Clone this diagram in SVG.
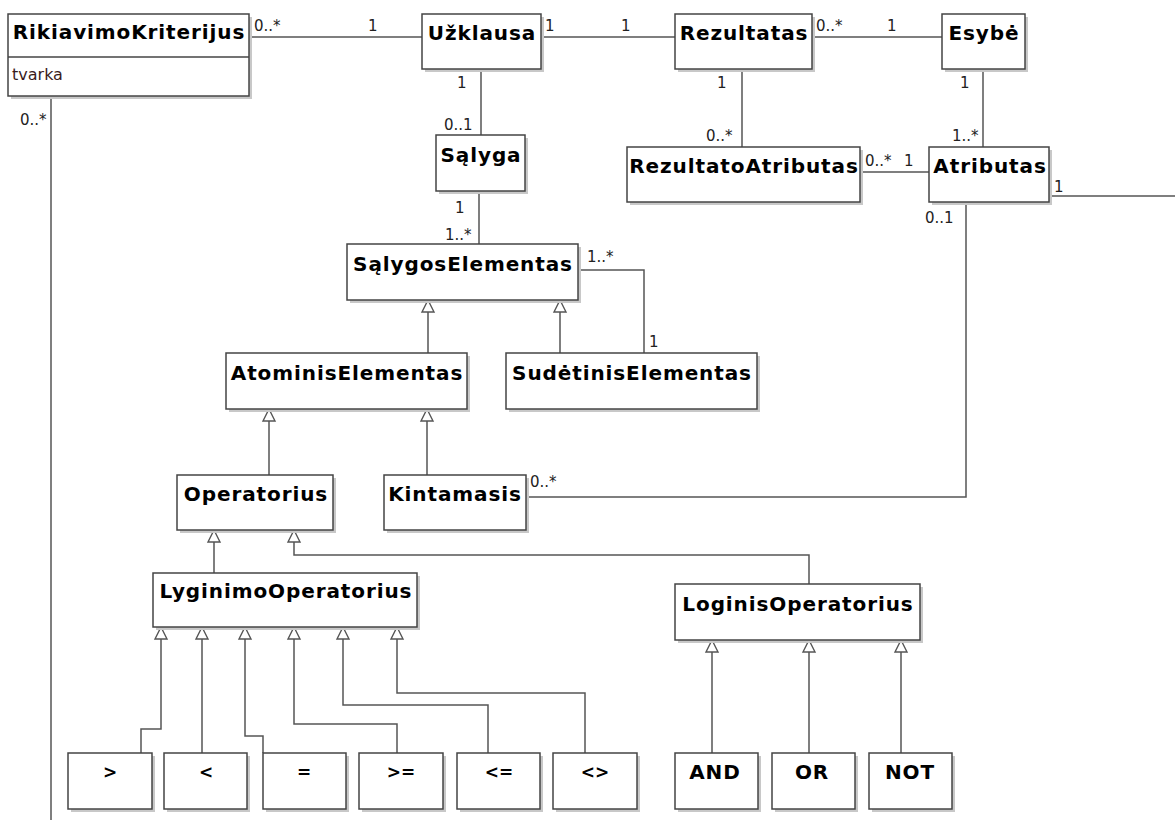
<svg xmlns="http://www.w3.org/2000/svg" width="1175" height="820" viewBox="0 0 1175 820">
  <style>
    .shadow { fill: #c8c8c8; }
    .box { fill: #ffffff; stroke: #444444; stroke-width: 1.5; }
    .title { font-family: "DejaVu Sans", Verdana, sans-serif; font-weight: bold; font-size: 20px; letter-spacing: 0.9px; fill: #000000; text-anchor: middle; }
    .sym { font-family: "DejaVu Sans", Verdana, sans-serif; font-weight: bold; font-size: 17px; fill: #000000; text-anchor: middle; }
    .attr { font-family: "DejaVu Sans", Verdana, sans-serif; font-size: 16px; fill: #3a1c1c; }
    .mult { font-family: "DejaVu Sans", Verdana, sans-serif; font-size: 15px; fill: #222222; }
    .conn { fill: none; stroke: #555555; stroke-width: 1.5; }
    .gen { fill: none; stroke: #555555; stroke-width: 1.5; marker-end: url(#hollow); }
  </style>
  <defs>
    <!-- hollow triangle used for generalization ends -->
    <marker id="hollow" markerUnits="userSpaceOnUse" markerWidth="16" markerHeight="16" refX="13" refY="7" orient="auto" overflow="visible">
      <path d="M1,1 L13,7 L1,13 Z" fill="#ffffff" stroke="#555555" stroke-width="1.4"/>
    </marker>
  </defs>
  <rect width="1175" height="820" fill="#ffffff"/>

  <!-- connectors -->
  <g id="connectors">
    <!-- associations -->
    <line class="conn" x1="249" y1="37" x2="422" y2="37"/>
    <line class="conn" x1="541" y1="37" x2="675" y2="37"/>
    <line class="conn" x1="812" y1="37" x2="942" y2="37"/>
    <line class="conn" x1="481" y1="69" x2="481" y2="135"/>
    <line class="conn" x1="742" y1="69" x2="742" y2="147"/>
    <line class="conn" x1="983" y1="69" x2="983" y2="147"/>
    <line class="conn" x1="860" y1="172" x2="929" y2="172"/>
    <line class="conn" x1="1049" y1="196" x2="1175" y2="196"/>
    <polyline class="conn" points="966,202 966,497 526,497"/>
    <line class="conn" x1="479" y1="191" x2="479" y2="244"/>
    <polyline class="conn" points="578,270 644,270 644,353"/>
    <line class="conn" x1="51" y1="96" x2="51" y2="820"/>

    <!-- generalizations -->
    <line class="gen" x1="428" y1="353" x2="428" y2="300"/>
    <line class="gen" x1="560" y1="353" x2="560" y2="300"/>
    <line class="gen" x1="269" y1="475" x2="269" y2="409"/>
    <line class="gen" x1="427" y1="475" x2="427" y2="409"/>
    <line class="gen" x1="214" y1="573" x2="214" y2="530"/>
    <polyline class="gen" points="809,584 809,555 294,555 294,530"/>
    <polyline class="gen" points="141,753 141,729 161,729 161,627"/>
    <polyline class="gen" points="202,753 202,627"/>
    <polyline class="gen" points="263,753 263,736 245,736 245,627"/>
    <polyline class="gen" points="397,753 397,724 294,724 294,627"/>
    <polyline class="gen" points="488,753 488,705 343,705 343,627"/>
    <polyline class="gen" points="585,753 585,693 397,693 397,627"/>
    <line class="gen" x1="712" y1="753" x2="712" y2="640"/>
    <line class="gen" x1="809" y1="753" x2="809" y2="640"/>
    <line class="gen" x1="901" y1="753" x2="901" y2="640"/>

    <!-- multiplicities -->
    <text class="mult" x="254" y="31">0..*</text>
    <text class="mult" x="368" y="31">1</text>
    <text class="mult" x="545" y="31">1</text>
    <text class="mult" x="621" y="31">1</text>
    <text class="mult" x="816" y="31">0..*</text>
    <text class="mult" x="887" y="31">1</text>
    <text class="mult" x="457" y="88">1</text>
    <text class="mult" x="444" y="130">0..1</text>
    <text class="mult" x="717" y="88">1</text>
    <text class="mult" x="706" y="141">0..*</text>
    <text class="mult" x="960" y="88">1</text>
    <text class="mult" x="952" y="141">1..*</text>
    <text class="mult" x="865" y="166">0..*</text>
    <text class="mult" x="904" y="166">1</text>
    <text class="mult" x="1054" y="192">1</text>
    <text class="mult" x="925" y="223">0..1</text>
    <text class="mult" x="530" y="487">0..*</text>
    <text class="mult" x="455" y="213">1</text>
    <text class="mult" x="445" y="240">1..*</text>
    <text class="mult" x="587" y="262">1..*</text>
    <text class="mult" x="649" y="347">1</text>
    <text class="mult" x="20" y="125">0..*</text>
  </g>

  <!-- classes -->
  <g id="RikiavimoKriterijus">
    <rect class="shadow" x="11" y="17" width="241" height="82"/>
    <rect class="box" x="8" y="14" width="241" height="82"/>
    <line x1="8" y1="57" x2="249" y2="57" stroke="#444444" stroke-width="1.5"/>
    <text class="title" x="129" y="39">RikiavimoKriterijus</text>
    <text class="attr" x="12" y="80">tvarka</text>
  </g>
  <g id="Uzklausa">
    <rect class="shadow" x="425" y="17" width="119" height="55"/>
    <rect class="box" x="422" y="14" width="119" height="55"/>
    <text class="title" x="482" y="40">Užklausa</text>
  </g>
  <g id="Rezultatas">
    <rect class="shadow" x="678" y="17" width="137" height="55"/>
    <rect class="box" x="675" y="14" width="137" height="55"/>
    <text class="title" x="744" y="40">Rezultatas</text>
  </g>
  <g id="Esybe">
    <rect class="shadow" x="945" y="17" width="83" height="55"/>
    <rect class="box" x="942" y="14" width="83" height="55"/>
    <text class="title" x="984" y="40">Esybė</text>
  </g>
  <g id="Salyga">
    <rect class="shadow" x="439" y="138" width="89" height="56"/>
    <rect class="box" x="436" y="135" width="89" height="56"/>
    <text class="title" x="481" y="162">Sąlyga</text>
  </g>
  <g id="RezultatoAtributas">
    <rect class="shadow" x="630" y="150" width="233" height="55"/>
    <rect class="box" x="627" y="147" width="233" height="55"/>
    <text class="title" x="744" y="173">RezultatoAtributas</text>
  </g>
  <g id="Atributas">
    <rect class="shadow" x="932" y="150" width="120" height="55"/>
    <rect class="box" x="929" y="147" width="120" height="55"/>
    <text class="title" x="990" y="173">Atributas</text>
  </g>
  <g id="SalygosElementas">
    <rect class="shadow" x="350" y="247" width="231" height="56"/>
    <rect class="box" x="347" y="244" width="231" height="56"/>
    <text class="title" x="463" y="271">SąlygosElementas</text>
  </g>
  <g id="AtominisElementas">
    <rect class="shadow" x="229" y="356" width="241" height="56"/>
    <rect class="box" x="226" y="353" width="241" height="56"/>
    <text class="title" x="347" y="380">AtominisElementas</text>
  </g>
  <g id="SudetinisElementas">
    <rect class="shadow" x="509" y="356" width="251" height="56"/>
    <rect class="box" x="506" y="353" width="251" height="56"/>
    <text class="title" x="632" y="380">SudėtinisElementas</text>
  </g>
  <g id="Operatorius">
    <rect class="shadow" x="180" y="478" width="156" height="55"/>
    <rect class="box" x="177" y="475" width="156" height="55"/>
    <text class="title" x="256" y="501">Operatorius</text>
  </g>
  <g id="Kintamasis">
    <rect class="shadow" x="387" y="478" width="142" height="55"/>
    <rect class="box" x="384" y="475" width="142" height="55"/>
    <text class="title" x="455" y="501">Kintamasis</text>
  </g>
  <g id="LyginimoOperatorius">
    <rect class="shadow" x="156" y="576" width="264" height="54"/>
    <rect class="box" x="153" y="573" width="264" height="54"/>
    <text class="title" x="286" y="598">LyginimoOperatorius</text>
  </g>
  <g id="LoginisOperatorius">
    <rect class="shadow" x="678" y="587" width="245" height="56"/>
    <rect class="box" x="675" y="584" width="245" height="56"/>
    <text class="title" x="798" y="611">LoginisOperatorius</text>
  </g>
  <g id="Daugiau">
    <rect class="shadow" x="71" y="756" width="84" height="56"/>
    <rect class="box" x="68" y="753" width="84" height="56"/>
    <text class="sym" x="110" y="778">&gt;</text>
  </g>
  <g id="Maziau">
    <rect class="shadow" x="167" y="756" width="83" height="56"/>
    <rect class="box" x="164" y="753" width="83" height="56"/>
    <text class="sym" x="206" y="778">&lt;</text>
  </g>
  <g id="Lygu">
    <rect class="shadow" x="266" y="756" width="83" height="56"/>
    <rect class="box" x="263" y="753" width="83" height="56"/>
    <text class="sym" x="304" y="778">=</text>
  </g>
  <g id="DaugiauLygu">
    <rect class="shadow" x="362" y="756" width="84" height="56"/>
    <rect class="box" x="359" y="753" width="84" height="56"/>
    <text class="sym" x="401" y="778">&gt;=</text>
  </g>
  <g id="MaziauLygu">
    <rect class="shadow" x="460" y="756" width="83" height="56"/>
    <rect class="box" x="457" y="753" width="83" height="56"/>
    <text class="sym" x="499" y="778">&lt;=</text>
  </g>
  <g id="NeLygu">
    <rect class="shadow" x="556" y="756" width="84" height="56"/>
    <rect class="box" x="553" y="753" width="84" height="56"/>
    <text class="sym" x="595" y="778">&lt;&gt;</text>
  </g>
  <g id="AND">
    <rect class="shadow" x="678" y="756" width="83" height="56"/>
    <rect class="box" x="675" y="753" width="83" height="56"/>
    <text class="title" x="715" y="779">AND</text>
  </g>
  <g id="OR">
    <rect class="shadow" x="775" y="756" width="83" height="56"/>
    <rect class="box" x="772" y="753" width="83" height="56"/>
    <text class="title" x="812" y="779">OR</text>
  </g>
  <g id="NOT">
    <rect class="shadow" x="872" y="756" width="83" height="56"/>
    <rect class="box" x="869" y="753" width="83" height="56"/>
    <text class="title" x="910" y="779">NOT</text>
  </g>
</svg>
